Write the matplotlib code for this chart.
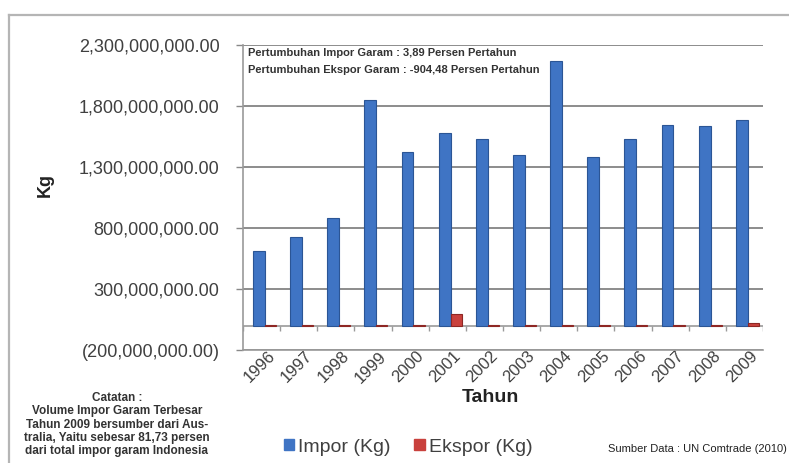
import numpy as np
import matplotlib
matplotlib.use('Agg')
import matplotlib.pyplot as plt
from matplotlib.patches import Patch
from matplotlib.lines import Line2D
from matplotlib.ticker import FuncFormatter

plt.rcParams['font.family'] = ['Liberation Sans', 'DejaVu Sans']

tahun = ['1996', '1997', '1998', '1999', '2000', '2001', '2002',
         '2003', '2004', '2005', '2006', '2007', '2008', '2009']
# volume in kg
impor = np.array([610, 726, 884, 1850, 1422, 1575, 1527,
                  1402, 2165, 1381, 1527, 1640, 1635, 1685]) * 1e6
ekspor = np.array([8, 5, 6, 1, 2, 97, 1,
                   5, 1, 4, 1, 1, 3, 20]) * 1e6

yticks = [-200e6, 300e6, 800e6, 1300e6, 1800e6, 2300e6]

catatan = ['Catatan :',
           'Volume Impor Garam Terbesar',
           'Tahun 2009 bersumber dari Aus-',
           'tralia, Yaitu sebesar 81,73 persen',
           'dari total impor garam Indonesia']

blue = '#3f74c4'
blue_dark = '#2b5595'
red = '#c9413d'
red_dark = '#8e2724'
grey_txt = '#404040'

fig = plt.figure(figsize=(7.89, 4.63), dpi=100)
ax = fig.add_axes([0.308, 0.244, 0.659, 0.659])

x = np.arange(len(tahun))
ax.bar(x - 0.07, impor, width=0.32, color=blue, edgecolor=blue_dark,
       linewidth=0.8, zorder=3)
ax.bar(x + 0.24, ekspor, width=0.3, color=red, edgecolor=red_dark,
       linewidth=0.8, zorder=3)

ax.set_xlim(-0.5, len(tahun) - 0.5)
ax.set_ylim(-200e6, 2300e6)
ax.set_yticks(yticks)


def fmt(v, pos):
    if v < 0:
        return '({:,.2f})'.format(-v)
    return '{:,.2f}'.format(v)


ax.yaxis.set_major_formatter(FuncFormatter(fmt))
ax.tick_params(axis='y', labelsize=13, labelcolor=grey_txt, color='#888888',
               length=5, width=1, pad=12)
ax.grid(axis='y', color='#8c8c8c', linewidth=1.4, zorder=0)

# floor of the plot and category separators
ax.axhline(0, color='#9a9a9a', linewidth=1.2, zorder=2)
ax.vlines(np.arange(len(tahun) + 1) - 0.5, -45e6, 0, color='#9a9a9a',
          linewidth=1, zorder=2)

ax.set_xticks(x + 0.15)
ax.set_xticklabels(tahun, rotation=45, ha='right', va='top',
                   rotation_mode='anchor')
ax.tick_params(axis='x', labelsize=12, labelcolor=grey_txt, length=0,
               pad=-1)

for s in ['top', 'right']:
    ax.spines[s].set_visible(False)
ax.spines['left'].set_color('#9a9a9a')
ax.spines['bottom'].set_color('#9a9a9a')
ax.spines['left'].set_linewidth(1.2)
ax.spines['bottom'].set_linewidth(1.2)

ax.text(0.01, 0.975, 'Pertumbuhan Impor Garam : 3,89 Persen Pertahun',
        transform=ax.transAxes, fontsize=8, fontweight='bold',
        color='#333333', va='center', ha='left', zorder=5)
ax.text(0.01, 0.917, 'Pertumbuhan Ekspor Garam : -904,48 Persen Pertahun',
        transform=ax.transAxes, fontsize=8, fontweight='bold',
        color='#333333', va='center', ha='left', zorder=5,
        bbox=dict(facecolor='white', edgecolor='none', pad=0.5))

fig.text(45 / 789, 1 - 185 / 463, 'Kg', rotation=90, fontsize=13,
         fontweight='bold', color='#222222', ha='center', va='center')
fig.text(490 / 789, 1 - 398 / 463, 'Tahun', fontsize=14, fontweight='bold',
         color='#222222', ha='center', va='center')

# note in the lower left corner
for i, line in enumerate(catatan):
    fig.text(117 / 789, 1 - (398 + i * 13.3) / 463, line, fontsize=8.5,
             fontweight='bold', color='#333333', ha='center', va='center')

fig.text(787 / 789, 1 - 449 / 463, 'Sumber Data : UN Comtrade (2010)',
         fontsize=8, color='#222222', ha='right', va='center',
         family=['Liberation Sans Narrow', 'Liberation Sans'])

handles = [Patch(facecolor=blue, edgecolor=blue), Patch(facecolor=red, edgecolor=red)]
fig.legend(handles, ['Impor (Kg)', 'Ekspor (Kg)'], loc='center',
           bbox_to_anchor=(408 / 789, 1 - 447 / 463), ncol=2, frameon=False,
           fontsize=14, handlelength=0.55, handleheight=0.55, handletextpad=0.2,
           columnspacing=1.2, labelcolor=grey_txt)

# outer frame
fig.add_artist(Line2D([9 / 789, 9 / 789], [0, 1 - 15 / 463], color='#b5b5b5',
                      linewidth=1.6, transform=fig.transFigure))
fig.add_artist(Line2D([9 / 789, 1], [1 - 15 / 463, 1 - 15 / 463],
                      color='#b5b5b5', linewidth=1.6, transform=fig.transFigure))

fig.savefig('out.png', dpi=100)
